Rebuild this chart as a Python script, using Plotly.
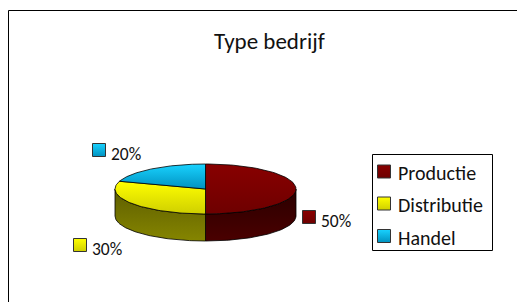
import numpy as np
import plotly.graph_objects as go

# ---------------- data ----------------
title_text = "Type bedrijf"
categories = ["Productie", "Distributie", "Handel"]
values = [50, 30, 20]

# ---------------- styles / layout constants ----------------
W, H = 517, 302
FONT = "Carlito, Lato, sans-serif"
top_colors = [["#6e0000", "#880000"], ["#cfcf00", "#ffff00"], ["#0092c0", "#19d2ff"]]
side_colors = [["#4a0000", "#2a0000"], ["#858500", "#5e5e00"], ["#007090", "#004a60"]]
CX, CY, RX, RY, DEPTH = 205.5, 189.0, 90.5, 25.0, 27.0
label_sq = [(309, 217), (80, 245), (99, 150)]       # label key positions
legend_box = (372.5, 154.5, 492.5, 250.5)
legend_rows = [171.5, 203.5, 236]
legend_sq_x = 384

total = float(sum(values))
pct_labels = [f"{round(v / total * 100)}%" for v in values]


def arc(a0, a1, dy=0.0, n=80):
    t = np.radians(np.linspace(a0, a1, n))
    return CX + RX * np.sin(t), CY - RY * np.cos(t) + dy


fig = go.Figure()

# slice angle ranges (clockwise from 12 o'clock)
bounds = np.concatenate([[0], np.cumsum(values) / total * 360.0])

# side walls (only the front half 90..270 is visible)
for i in range(len(values)):
    a0, a1 = max(bounds[i], 90.0), min(bounds[i + 1], 270.0)
    if a1 <= a0:
        continue
    xt, yt = arc(a0, a1)
    xb, yb = arc(a1, a0, DEPTH)
    xs = np.concatenate([xt, xb, xt[:1]])
    ys = np.concatenate([yt, yb, yt[:1]])
    fig.add_trace(go.Scatter(
        x=xs, y=ys, mode="lines", fill="toself",
        fillgradient=dict(type="vertical",
                          colorscale=[[0, side_colors[i][0]], [1, side_colors[i][1]]]),
        line=dict(color="#000000", width=0.8),
        hoverinfo="skip", showlegend=False))

# top faces
for i in range(len(values)):
    xa, ya = arc(bounds[i], bounds[i + 1])
    xs = np.concatenate([[CX], xa, [CX]])
    ys = np.concatenate([[CY], ya, [CY]])
    fig.add_trace(go.Scatter(
        x=xs, y=ys, mode="lines", fill="toself",
        fillgradient=dict(type="vertical",
                          colorscale=[[0, top_colors[i][0]], [1, top_colors[i][1]]]),
        line=dict(color="#000000", width=0.8),
        name=categories[i], hoverinfo="skip", showlegend=False))

# data label keys + texts
fig.add_trace(go.Scatter(
    x=[p[0] for p in label_sq], y=[p[1] for p in label_sq], mode="markers",
    marker=dict(symbol="square", size=13,
                color=[c[1] for c in top_colors],
                gradient=dict(type="vertical", color=[c[0] for c in top_colors]),
                line=dict(color="#333333", width=1)),
    hoverinfo="skip", showlegend=False))
annotations = []
for (x, y), t in zip(label_sq, pct_labels):
    annotations.append(dict(x=x + 9.5, y=y + 4, text=t, xref="x", yref="y",
                            xanchor="left", yanchor="middle", showarrow=False,
                            font=dict(family=FONT, size=17.5, color="#111111")))

# legend keys + texts
fig.add_trace(go.Scatter(
    x=[legend_sq_x] * len(categories), y=legend_rows, mode="markers",
    marker=dict(symbol="square", size=13,
                color=[c[1] for c in top_colors],
                gradient=dict(type="vertical", color=[c[0] for c in top_colors]),
                line=dict(color="#333333", width=1)),
    hoverinfo="skip", showlegend=False))
for y, name in zip(legend_rows, categories):
    annotations.append(dict(x=legend_sq_x + 12, y=y + 1.5, text=name, xref="x", yref="y",
                            xanchor="left", yanchor="middle", showarrow=False,
                            font=dict(family=FONT, size=20, color="#111111")))

# title
annotations.append(dict(x=269.5, y=40.5, text=title_text, xref="x", yref="y",
                        xanchor="center", yanchor="middle", showarrow=False,
                        font=dict(family=FONT, size=23, color="#111111")))

shapes = [
    dict(type="rect", xref="x", yref="y", x0=legend_box[0], y0=legend_box[1],
         x1=legend_box[2], y1=legend_box[3], line=dict(color="#000000", width=1)),
    dict(type="line", xref="x", yref="y", x0=8.5, y0=10.5, x1=W + 5, y1=10.5,
         line=dict(color="#000000", width=1)),
    dict(type="line", xref="x", yref="y", x0=8.5, y0=10.5, x1=8.5, y1=H + 5,
         line=dict(color="#000000", width=1)),
]

fig.update_layout(
    width=W, height=H, margin=dict(l=0, r=0, t=0, b=0),
    paper_bgcolor="#ffffff", plot_bgcolor="#ffffff",
    xaxis=dict(range=[0, W], visible=False, fixedrange=True),
    yaxis=dict(range=[H, 0], visible=False, fixedrange=True),
    annotations=annotations, shapes=shapes, showlegend=False,
)

fig.write_html(
    "out.html",
    config={"displayModeBar": False},
    post_script="document.body.style.margin='0';document.body.style.overflow='hidden';",
)
